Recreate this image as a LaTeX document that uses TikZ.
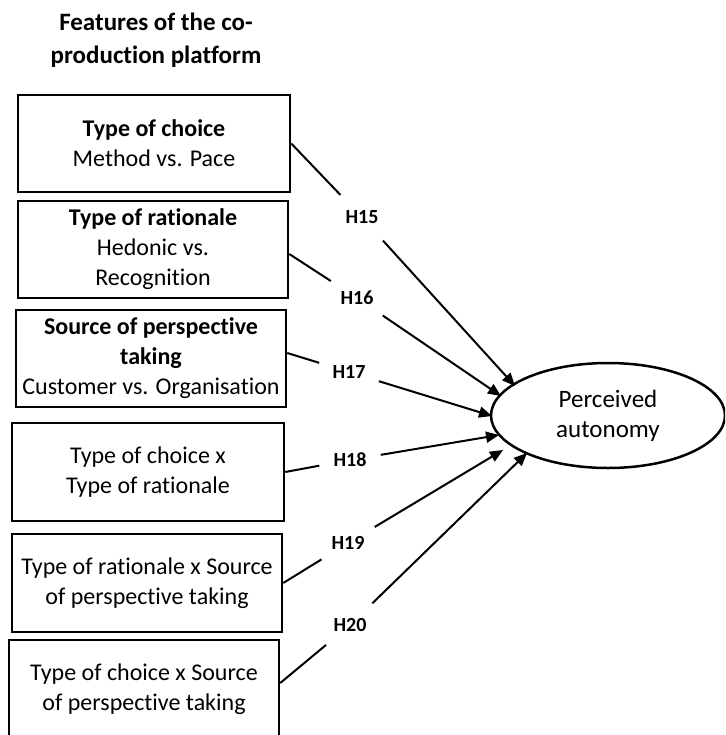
\documentclass[tikz,border=0pt]{standalone}
\usepackage{fontspec}
\setmainfont{Carlito}[Ligatures=NoCommon]
\usetikzlibrary{arrows.meta,shapes.geometric}
\begin{document}
\begin{tikzpicture}[x=1pt,y=-1pt,
  factor/.style={draw, line width=2.5pt, minimum width=270pt, minimum height=97pt,
    align=center, inner sep=0pt, font=\fontsize{24}{30}\selectfont},
  hyp/.style={circle, minimum size=62pt, inner sep=0pt,
    font=\bfseries\fontsize{20}{22}\selectfont},
  link/.style={line width=2pt},
  arr/.style={link, -{Triangle[length=13pt,width=11pt]}},
]
\useasboundingbox (0,0) rectangle (725,735);
\clip (0,0) rectangle (725,735);

% heading
\node[align=center, font=\bfseries\fontsize{25}{33}\selectfont] (title) at (156,40)
  {Features of the co-\\production platform};

% platform features
\node[factor, minimum width=272pt] (b1) at (154,143.5)
  {\textbf{Type of choice}\\Method vs. Pace};
\node[factor] (b2) at (153,249.5)
  {\textbf{Type of rationale}\\Hedonic vs.\\Recognition};
\node[factor] (b3) at (151,358.5)
  {\textbf{Source of perspective}\\\textbf{taking}\\Customer vs. Organisation};
\node[factor, minimum width=272pt, minimum height=98pt] (b4) at (148,472)
  {Type of choice x\\Type of rationale};
\node[factor, minimum height=98pt] (b5) at (147,583)
  {Type of rationale x Source\\of perspective taking};
\node[factor, minimum height=98pt] (b6) at (144,689)
  {Type of choice x Source\\of perspective taking};

% outcome
\node[ellipse, draw, line width=2.5pt, minimum width=234pt, minimum height=105pt,
  align=center, inner sep=0pt, font=\fontsize{25}{30}\selectfont] (pa) at (608,415.5)
  {Perceived\\autonomy};

% hypothesis labels
\node[hyp] (h15) at (362,217.5) {H15};
\node[hyp] (h16) at (357,298) {H16};
\node[hyp] (h17) at (349,372) {H17};
\node[hyp] (h18) at (350,460) {H18};
\node[hyp] (h19) at (348,543) {H19};
\node[hyp] (h20) at (350,625) {H20};

% arrow tips on the outcome
\coordinate (t15) at (515,386);
\coordinate (t16) at (501,396);
\coordinate (t17) at (492,416);
\coordinate (t18) at (499,435);
\coordinate (t19) at (503,450);
\coordinate (t20) at (527,453);

% paths
\draw[link] (b1.east) -- (h15);
\draw[arr] (h15) -- (t15);
\draw[link] ([yshift=-4.5pt]b2.east) -- (h16);
\draw[arr] (h16) -- (t16);
\draw[link] ([yshift=5.5pt]b3.east) -- (h17);
\draw[arr] (h17) -- (t17);
\draw[link] (b4.east) -- (h18);
\draw[arr] (h18) -- (t18);
\draw[link] (b5.east) -- (h19);
\draw[arr] (h19) -- (t19);
\draw[link] ([yshift=6pt]b6.east) -- (h20);
\draw[arr] (h20) -- (t20);
\end{tikzpicture}
\end{document}
